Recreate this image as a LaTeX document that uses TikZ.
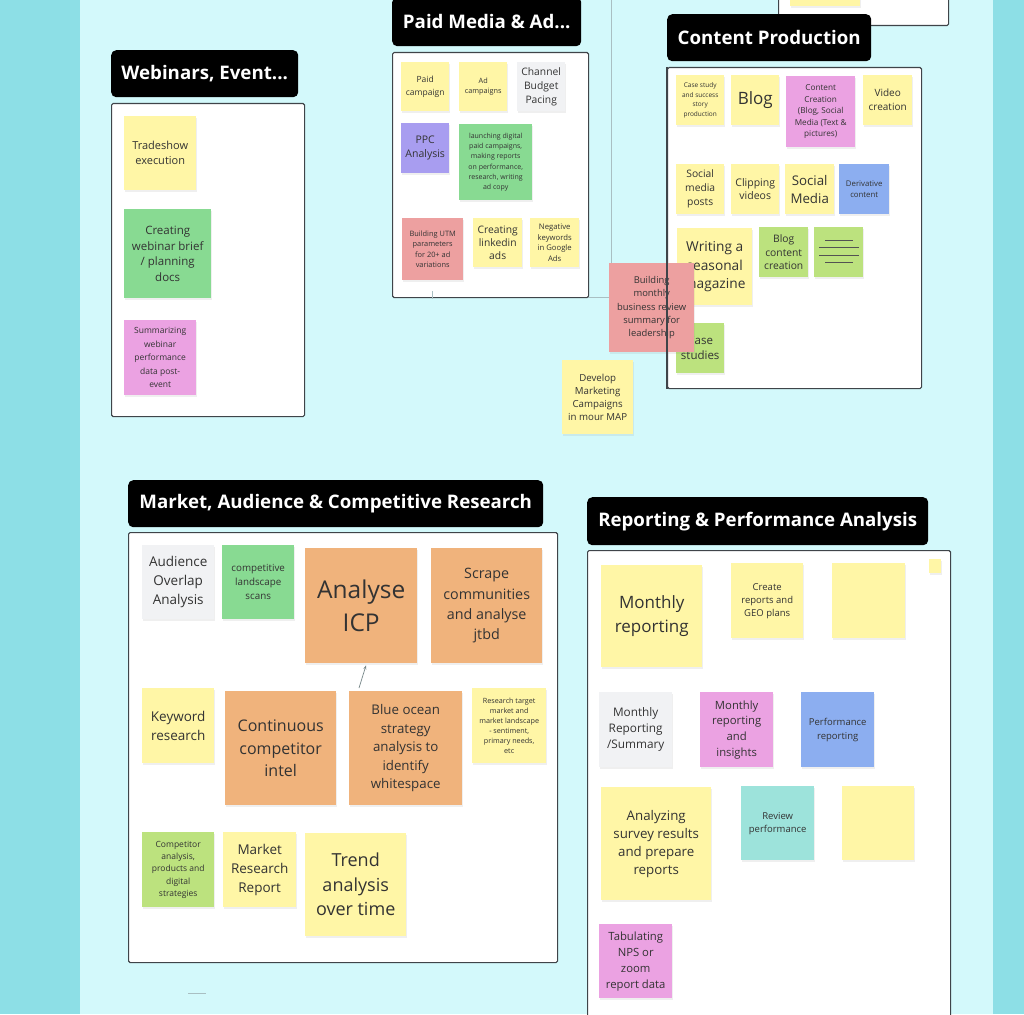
\documentclass[tikz,border=0pt]{standalone}
\usepackage{fontspec}
\setmainfont{Open Sans}
\usetikzlibrary{calc,shadows,arrows.meta}
\definecolor{outerBg}{HTML}{8DDFE6}
\definecolor{innerBg}{HTML}{D3F9FB}
\definecolor{frameLine}{HTML}{3F4449}
\definecolor{ink}{HTML}{333333}
\definecolor{noteYellow}{HTML}{FFF6A6}
\definecolor{noteGreen}{HTML}{88DA92}
\definecolor{noteLime}{HTML}{BCE27E}
\definecolor{notePink}{HTML}{EBA2E2}
\definecolor{notePurple}{HTML}{A89DF0}
\definecolor{noteBlue}{HTML}{8CAEF0}
\definecolor{noteRed}{HTML}{EDA0A0}
\definecolor{noteOrange}{HTML}{F0B37C}
\definecolor{noteTeal}{HTML}{9DE3DB}
\definecolor{noteGrey}{HTML}{F1F2F4}
\definecolor{guideLine}{HTML}{A9BFC2}
\newcommand{\fsz}[2]{\fontsize{#1}{#2}\selectfont}
\begin{document}
\begin{tikzpicture}[x=1pt,y=-1pt]
  \tikzstyle{note}=[rectangle,anchor=north west,inner sep=1pt,align=center,text=ink,
    drop shadow={shadow xshift=0.6pt,shadow yshift=-1.6pt,opacity=0.12}]
  \tikzstyle{yellow}=[note,fill=noteYellow]
  \tikzstyle{green}=[note,fill=noteGreen]
  \tikzstyle{lime}=[note,fill=noteLime]
  \tikzstyle{pink}=[note,fill=notePink]
  \tikzstyle{purple}=[note,fill=notePurple]
  \tikzstyle{blue}=[note,fill=noteBlue]
  \tikzstyle{red}=[note,fill=noteRed]
  \tikzstyle{orange}=[note,fill=noteOrange]
  \tikzstyle{teal}=[note,fill=noteTeal]
  \tikzstyle{grey}=[note,fill=noteGrey]
  \tikzstyle{frameBox}=[rectangle,anchor=north west,inner sep=0pt,draw=frameLine,line width=1.1pt,fill=white,rounded corners=1.5pt]
  \tikzstyle{titleTag}=[rectangle,anchor=north west,inner sep=0pt,fill=black,text=white,rounded corners=5pt,minimum height=47,font=\bfseries\fsz{18.7}{22}]
  \tikzstyle{guide}=[draw=guideLine,line width=0.8pt]

  % background
  \fill[outerBg] (0,0) rectangle (1024,1014);
  \fill[innerBg] (80,0) rectangle (993,1014);
  \useasboundingbox (0,0) rectangle (1024,1014);

  % board guides
  \coordinate (guideTop) at (611,0);
  \coordinate (guideCorner) at (611,297);
  \coordinate (guideLeft) at (588,297);
  \draw[guide] (guideTop) -- (guideCorner) -- (guideLeft);

  % frame cut off at the top
  \node[frameBox,minimum width=170,minimum height=32](frameTop) at (778,-7) {};
  \node[yellow,minimum width=70,minimum height=13](topNote) at (790,-7) {};

  \begin{scope}
   % Webinars
   \node[titleTag,minimum width=187](titleWebinars) at (111,50) {Webinars, Event...};
   \node[frameBox,minimum width=193,minimum height=313](frameWebinars) at (111,103) {};
   \node[yellow,minimum width=72,minimum height=74,font=\fsz{11}{15}](tradeshow) at (124,116) {Tradeshow\\execution};
   \node[green,minimum width=87,minimum height=89,font=\fsz{11.5}{15.6}](webinarBrief) at (124,209) {Creating\\webinar brief\\/ planning\\docs};
   \node[pink,minimum width=72,minimum height=75,font=\fsz{8.5}{13.5}](webinarSummary) at (124,320) {Summarizing\\webinar\\performance\\data post-\\event};
  \end{scope}

  \begin{scope}
   % Paid media
   \node[titleTag,minimum width=189,minimum height=49](titlePaid) at (392,-3) {Paid Media \& Ad...};
   \node[frameBox,minimum width=196,minimum height=245](framePaid) at (392,52) {};
   \node[yellow,minimum width=48,minimum height=49,font=\fsz{8.5}{13}](paidCampaign) at (401,62) {Paid\\campaign};
   \node[yellow,minimum width=48,minimum height=49,font=\fsz{7.3}{10.5}](adCampaigns) at (459,62) {Ad\\campaigns};
   \node[grey,minimum width=48,minimum height=49,font=\fsz{10.3}{14}](budgetPacing) at (517,62) {Channel\\Budget\\Pacing};
   \node[purple,minimum width=48,minimum height=50,font=\fsz{10.5}{14}](ppcAnalysis) at (401,123) {PPC\\Analysis};
   \node[green,minimum width=73,minimum height=76,font=\fsz{7}{10.3}](launchCampaigns) at (459,124) {launching digital\\paid campaigns,\\making reports\\on performance,\\research, writing\\ad copy};
   \node[red,minimum width=61,minimum height=62,font=\fsz{7.4}{10.5}](utmParams) at (402,218) {Building UTM\\parameters\\for 20+ ad\\variations};
   \node[yellow,minimum width=49,minimum height=49,font=\fsz{10.3}{13}](linkedinAds) at (473,218) {Creating\\linkedin\\ads};
   \node[yellow,minimum width=49,minimum height=49,font=\fsz{7.7}{10.5}](negativeKeywords) at (530,218) {Negative\\keywords\\in Google\\Ads};
   \coordinate (tickTop) at (432,291);
   \coordinate (tickEnd) at (432,299);
   \draw[guide] (tickTop) -- (tickEnd);
  \end{scope}

  \begin{scope}
   % Content production
   \node[titleTag,minimum width=204](titleContent) at (667,14) {Content Production};
   \node[frameBox,minimum width=254,minimum height=321](frameContent) at (667,67) {};
   \node[yellow,minimum width=48,minimum height=50,font=\fsz{6.5}{9.6}](caseStudyProd) at (676,75) {Case study\\and success\\story\\production};
   \node[yellow,minimum width=48,minimum height=50,font=\fsz{17}{20}](blog) at (731,75) {Blog};
   \node[pink,minimum width=69,minimum height=71,font=\fsz{8.2}{11.5}](contentCreation) at (786,76) {Content\\Creation\\(Blog, Social\\Media (Text \&\\pictures)};
   \node[yellow,minimum width=49,minimum height=50,font=\fsz{10}{14}](videoCreation) at (863,75) {Video\\creation};
   \node[yellow,minimum width=48,minimum height=50,font=\fsz{10.3}{14}](socialPosts) at (676,164) {Social\\media\\posts};
   \node[yellow,minimum width=48,minimum height=50,font=\fsz{10.5}{13.7}](clippingVideos) at (731,164) {Clipping\\videos};
   \node[yellow,minimum width=49,minimum height=50,font=\fsz{13.3}{18}](socialMedia) at (785,164) {Social\\Media};
   \node[blue,minimum width=50,minimum height=50,font=\fsz{7.8}{10.7}](derivativeContent) at (839,164) {Derivative\\content};
   \node[yellow,minimum width=75,minimum height=77,font=\fsz{13.7}{18.3}](seasonalMagazine) at (677,228) {Writing a\\seasonal\\magazine};
   \node[lime,minimum width=49,minimum height=50,font=\fsz{10.3}{13.7}](blogContent) at (759,227) {Blog\\content\\creation};
   \node[lime,minimum width=49,minimum height=50](linesNote) at (814,227) {};
   \draw[ink!85,line width=1pt] (825,240) -- (853,240) (819,247) -- (859,247) (819,255) -- (859,255) (825,262) -- (853,262);
   \node[lime,minimum width=48,minimum height=50,font=\fsz{11.5}{15}](caseStudies) at (676,323) {Case\\studies};
  \end{scope}

  % loose notes
  \node[red,minimum width=85,minimum height=89,font=\fsz{9.4}{13.3}](businessReview) at (609,263) {Building\\monthly\\business review\\summary for\\leadership};
  \draw[frameLine,line width=1.1pt] (frameContent.north west) -- (frameContent.south west);
  \node[yellow,minimum width=71,minimum height=74,font=\fsz{9.7}{13}](developCampaigns) at (562,360) {Develop\\Marketing\\Campaigns\\in mour MAP};

  \begin{scope}
   % Market research
   \node[titleTag,minimum width=415](titleMarket) at (128,480) {Market, Audience \& Competitive Research};
   \node[frameBox,minimum width=429,minimum height=430](frameMarket) at (128,532) {};
   \node[grey,minimum width=72,minimum height=74,font=\fsz{13.5}{19}](audienceOverlap) at (142,545) {Audience\\Overlap\\Analysis};
   \node[green,minimum width=72,minimum height=74,font=\fsz{9.8}{14}](landscapeScans) at (222,545) {competitive\\landscape\\scans};
   \node[orange,minimum width=112,minimum height=115,font=\fsz{24.5}{33}](analyseICP) at (305,548) {Analyse\\ICP};
   \node[orange,minimum width=111,minimum height=115,font=\fsz{14.3}{20.3}](scrapeCommunities) at (431,548) {Scrape\\communities\\and analyse\\jtbd};
   \node[yellow,minimum width=72,minimum height=75,font=\fsz{13.5}{19}](keywordResearch) at (142,688) {Keyword\\research};
   \node[orange,minimum width=111,minimum height=114,font=\fsz{16}{22.5}](competitorIntel) at (225,691) {Continuous\\competitor\\intel};
   \node[orange,minimum width=113,minimum height=114,font=\fsz{13.3}{18.5}](blueOcean) at (349,691) {Blue ocean\\strategy\\analysis to\\identify\\whitespace};
   \node[yellow,minimum width=74,minimum height=75,font=\fsz{7.2}{10}](targetMarket) at (472,688) {Research target\\market and\\market landscape\\- sentiment,\\primary needs,\\etc};
   \node[lime,minimum width=72,minimum height=75,font=\fsz{8.5}{12.2}](competitorAnalysis) at (142,832) {Competitor\\analysis,\\products and\\digital\\strategies};
   \node[yellow,minimum width=73,minimum height=75,font=\fsz{13.5}{19}](marketReport) at (223,832) {Market\\Research\\Report};
   \node[yellow,minimum width=101,minimum height=103,font=\fsz{18}{24.5}](trendAnalysis) at (305,833) {Trend\\analysis\\over time};
   \draw[guideLine!70!black,line width=0.7pt,-{Stealth[length=4pt,width=3pt]}] ($(blueOcean.north west)+(10,-3)$) -- ($(analyseICP.south west)+(61,2)$);
  \end{scope}

  \begin{scope}
   % Reporting
   \node[titleTag,minimum width=341,minimum height=48](titleReporting) at (587,497) {Reporting \& Performance Analysis};
   \node[frameBox,minimum width=363,minimum height=480](frameReporting) at (587,550) {};
   \node[yellow,minimum width=101,minimum height=102,font=\fsz{17}{24}](monthlyReporting) at (601,565) {Monthly\\reporting};
   \node[yellow,minimum width=72,minimum height=75,font=\fsz{9.5}{13}](createReports) at (731,563) {Create\\reports and\\GEO plans};
   \node[yellow,minimum width=73,minimum height=75](emptyNoteA) at (832,563) {};
   \node[yellow,minimum width=12,minimum height=14](tinyNote) at (929,559) {};
   \node[grey,minimum width=73,minimum height=75,font=\fsz{11.8}{16}](monthlySummary) at (599,692) {Monthly\\Reporting\\/Summary};
   \node[pink,minimum width=73,minimum height=75,font=\fsz{11.3}{15.7}](reportingInsights) at (700,692) {Monthly\\reporting\\and\\insights};
   \node[blue,minimum width=73,minimum height=75,font=\fsz{9.5}{14}](performanceReporting) at (801,692) {Performance\\reporting};
   \node[yellow,minimum width=110,minimum height=113,font=\fsz{13.3}{18}](surveyResults) at (601,787) {Analyzing\\survey results\\and prepare\\reports};
   \node[teal,minimum width=73,minimum height=74,font=\fsz{9.5}{13}](reviewPerformance) at (741,786) {Review\\performance};
   \node[yellow,minimum width=72,minimum height=74](emptyNoteB) at (842,786) {};
   \node[pink,minimum width=73,minimum height=74,font=\fsz{11.3}{16}](tabulatingNPS) at (599,924) {Tabulating\\NPS or\\zoom\\report data};
  \end{scope}

  \coordinate (dashStart) at (188,993);
  \coordinate (dashEnd) at (206,993);
  \draw[guide] (dashStart) -- (dashEnd);
\end{tikzpicture}
\end{document}
